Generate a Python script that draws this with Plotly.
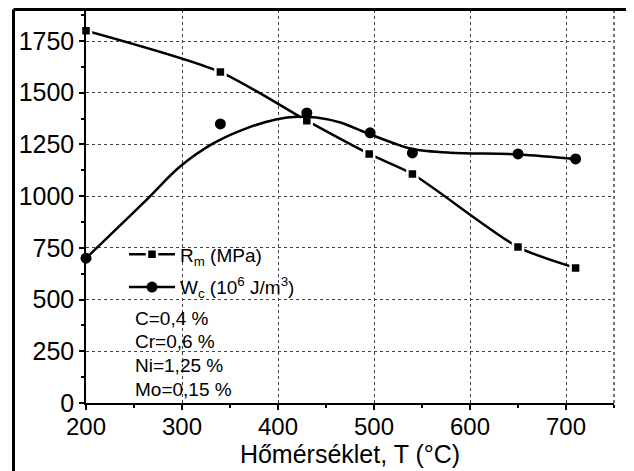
import plotly.graph_objects as go

# Data
temp_rm = [200, 340, 430, 495, 540, 650, 710]
rm_mpa = [1800, 1600, 1365, 1204, 1107, 754, 653]

temp_wc = [200, 340, 430, 496, 540, 650, 710]
wc_vals = [700, 1349, 1402, 1306, 1209, 1204, 1180]

# fitted Wc curve
fit_temp = [200, 263, 298, 333, 367, 399, 420, 440, 465, 492, 520, 540, 579, 650, 710]
fit_wc = [700, 982, 1143, 1256, 1328, 1372, 1384, 1380, 1356, 1306, 1257, 1228, 1210, 1202, 1180]

composition = ["C=0,4 %", "Cr=0,6 %", "Ni=1,25 %", "Mo=0,15 %"]

x_ticks = [200, 300, 400, 500, 600, 700]
y_ticks = [0, 250, 500, 750, 1000, 1250, 1500, 1750]

FONT = "Liberation Sans, Arial, sans-serif"

# page body has an 8px margin; work in figure coordinates
OFF = 8
W, H = 634 - OFF, 471 - OFF
plot_left, plot_right = 86 - OFF, 614 - OFF
plot_top, plot_bot = 10 - OFF, 403 - OFF

def px(x):
    return (x - OFF - plot_left) / (plot_right - plot_left)

def py(y):
    return (plot_bot - (y - OFF)) / (plot_bot - plot_top)

fig = go.Figure()

# R_m: line + square symbols (white halo gives the gaps)
fig.add_trace(go.Scatter(
    x=temp_rm, y=rm_mpa, mode="lines+markers",
    name="R<sub>m</sub> (MPa)", legendgroup="rm",
    line=dict(color="black", width=2.5, shape="spline", smoothing=0.7),
    marker=dict(symbol="square", size=10, color="black",
                line=dict(color="white", width=2.5)),
    cliponaxis=False,
))

# W_c fitted curve
fig.add_trace(go.Scatter(
    x=fit_temp, y=fit_wc, mode="lines", showlegend=False,
    line=dict(color="black", width=2.5, shape="spline", smoothing=1.0),
    hoverinfo="skip", cliponaxis=False,
))
# W_c points
fig.add_trace(go.Scatter(
    x=temp_wc, y=wc_vals, mode="markers", showlegend=False,
    marker=dict(symbol="circle", size=11, color="black"),
    cliponaxis=False,
))
# legend entry for W_c (line + circle)
fig.add_trace(go.Scatter(
    x=[None], y=[None], mode="lines+markers", legendgroup="wc",
    name="W<sub>c</sub> (10<sup>6</sup> J/m<sup>3</sup>)",
    line=dict(color="black", width=2.5),
    marker=dict(symbol="circle", size=11, color="black"),
))

annotations = []
for i, txt in enumerate(composition):
    annotations.append(dict(
        x=px(133), y=py(318 + 23.7 * i),
        xref="paper", yref="paper", text=txt, showarrow=False,
        xanchor="left", yanchor="middle", font=dict(size=19, color="black", family=FONT),
    ))

shapes = [
    # dotted top and right frame
    dict(type="line", xref="paper", yref="paper", x0=0, x1=1, y0=1, y1=1,
         line=dict(color="#444", width=1.5, dash="dot")),
    dict(type="line", xref="paper", yref="paper", x0=1, x1=1, y0=0, y1=1,
         line=dict(color="#444", width=1.5, dash="dot")),
    # outer thick border (left and top visible)
    dict(type="line", xref="paper", yref="paper", x0=px(13.5), x1=1.2, y0=py(9.5), y1=py(9.5),
         line=dict(color="black", width=3)),
    dict(type="line", xref="paper", yref="paper", x0=px(13.5), x1=px(13.5), y0=py(9.5), y1=-0.3,
         line=dict(color="black", width=3)),
]

fig.update_layout(
    width=W, height=H,
    margin=dict(l=plot_left, r=W - plot_right, t=plot_top, b=H - plot_bot, pad=0),
    paper_bgcolor="white", plot_bgcolor="white",
    font=dict(family=FONT, color="black"),
    showlegend=True,
    legend=dict(
        x=px(124), y=py(271),
        xanchor="left", yanchor="middle",
        bgcolor="rgba(0,0,0,0)", font=dict(size=19, family=FONT, color="black"),
        itemwidth=46, tracegroupgap=5, traceorder="grouped",
    ),
    annotations=annotations,
    shapes=shapes,
)

fig.update_xaxes(
    range=[200, 750], tickvals=x_ticks, ticks="outside", ticklen=5, tickwidth=1.5,
    tickcolor="black", showline=True, linecolor="black", linewidth=1.5,
    showgrid=True, gridcolor="#444", gridwidth=1, griddash="dot",
    minor=dict(ticks="outside", ticklen=3, dtick=50, tick0=200, tickcolor="black", showgrid=False),
    tickfont=dict(size=24, family=FONT, color="black"), ticklabelstandoff=-4,
    title=dict(text="Hőmérséklet, T (°C)", font=dict(size=25, family=FONT, color="black"), standoff=0),
    zeroline=False, automargin=False,
)
fig.update_yaxes(
    range=[0, 1900], tickvals=y_ticks, ticks="outside", ticklen=5, tickwidth=1.5,
    tickcolor="black", showline=True, linecolor="black", linewidth=1.5,
    showgrid=True, gridcolor="#444", gridwidth=1, griddash="dot",
    minor=dict(ticks="outside", ticklen=3, dtick=125, tick0=0, tickcolor="black", showgrid=False),
    tickfont=dict(size=25, family=FONT, color="black"),
    zeroline=False, automargin=False,
)

fig.write_html("out.html")
